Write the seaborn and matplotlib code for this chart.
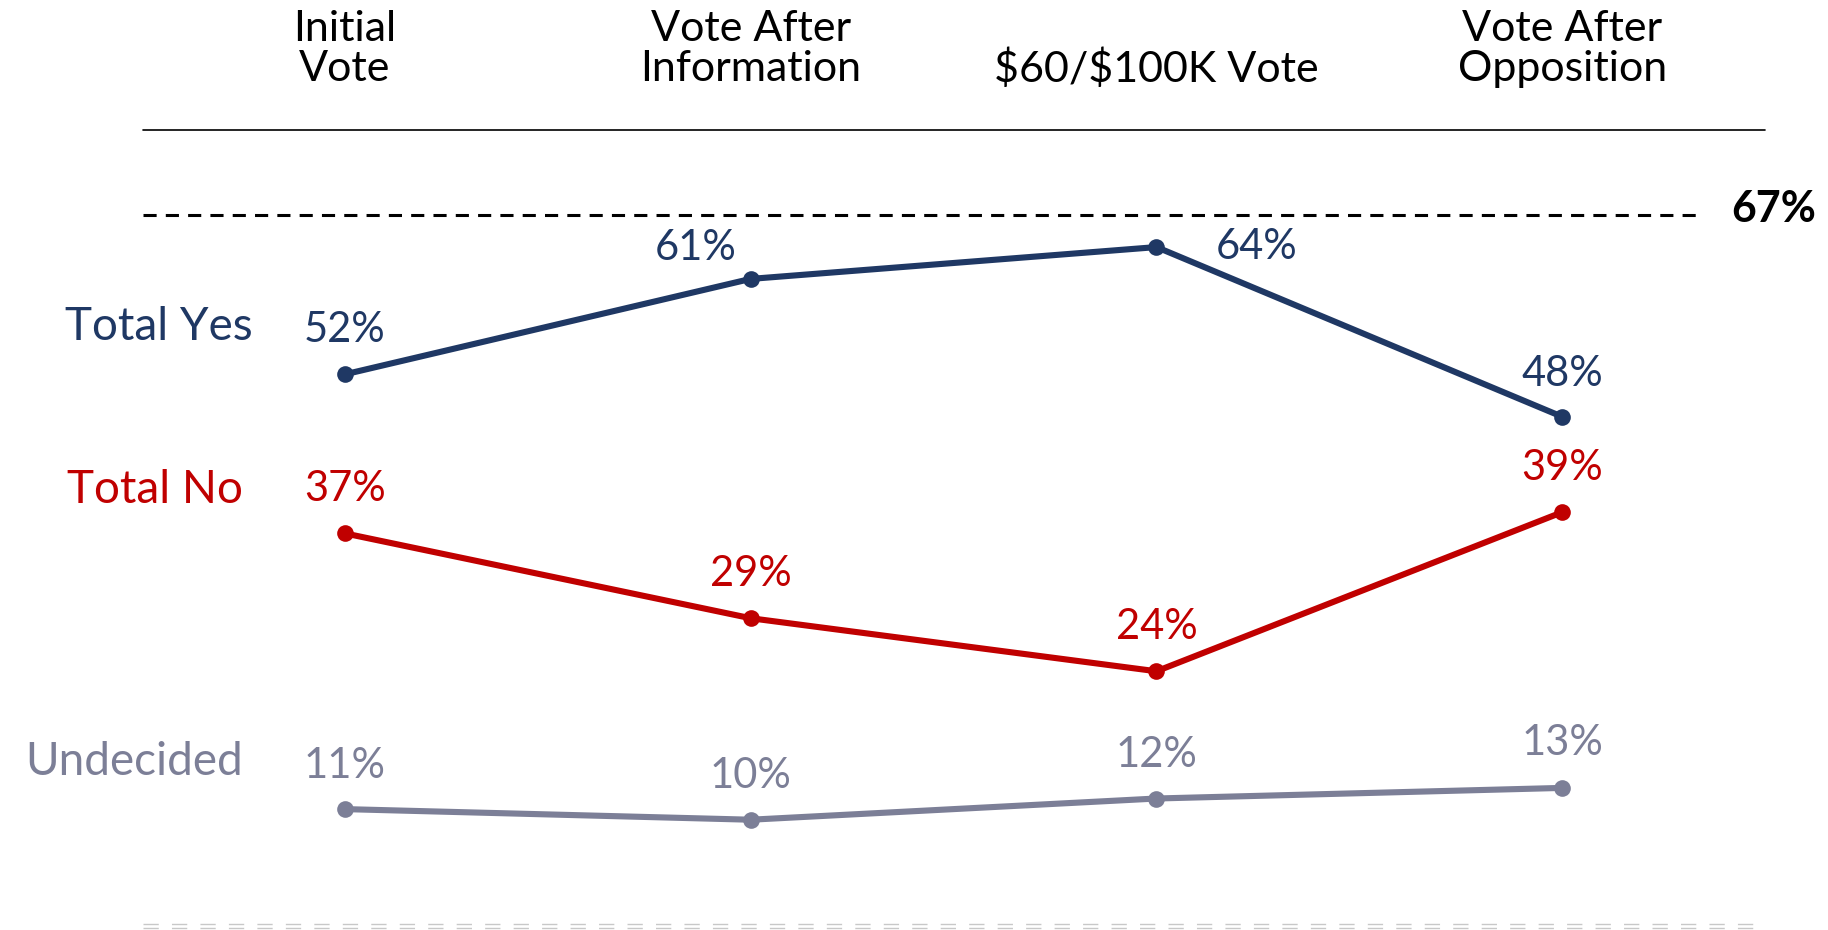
import numpy as np
import pandas as pd
import matplotlib
matplotlib.use("Agg")
import matplotlib.pyplot as plt
import seaborn as sns

# ---- data ----
stages = ["Initial\nVote", "Vote After\nInformation", "\\$60/\\$100K Vote", "Vote After\nOpposition"]
series_names = ["Total Yes", "Total No", "Undecided"]
total_yes = [52, 61, 64, 48]
total_no = [37, 29, 24, 39]
undecided = [11, 10, 12, 13]
threshold = 67

colors = {"Total Yes": "#1F3864", "Total No": "#C00000", "Undecided": "#7C7F97"}

rows = []
for name, vals in zip(series_names, [total_yes, total_no, undecided]):
    for i, v in enumerate(vals):
        rows.append({"series": name, "pos": i, "value": v})
df = pd.DataFrame(rows)

sns.set_theme(style="white")
plt.rcParams["font.family"] = ["Lato", "DejaVu Sans"]

fig = plt.figure(figsize=(18.28, 9.30), dpi=100)
ax = fig.add_axes([0, 0, 1, 1])

sns.lineplot(data=df, x="pos", y="value", hue="series", palette=colors,
             hue_order=series_names, marker="o", markersize=12,
             markeredgewidth=0, linewidth=4.4, legend=False, ax=ax)

ax.set_xlim(-0.850, 3.655)
ax.set_ylim(-0.4, 87.3)
ax.axis("off")

trans = matplotlib.transforms.blended_transform_factory(ax.transData, ax.transAxes)
trans2 = matplotlib.transforms.blended_transform_factory(ax.transAxes, ax.transData)
# header labels
for i, s in enumerate(stages):
    if "\n" in s:
        ax.text(i, 1 - 49 / 930, s, transform=trans, ha="center", va="center",
                fontsize=31, linespacing=1.08, color="black")
    else:
        ax.text(i, 1 - 69 / 930, s, transform=trans, ha="center", va="center",
                fontsize=31, color="black")

# top rule
fig.add_artist(plt.Line2D([143 / 1828, 1765 / 1828], [1 - 130 / 930] * 2,
                          color="black", lw=1.2))

# threshold dashed line
ax.plot([143 / 1828, 1702 / 1828], [threshold, threshold], transform=trans2,
        color="black", lw=2.2, dashes=(4.3, 3.0))
ax.text(1731 / 1828, threshold + 0.6, f"{threshold}%", transform=trans2,
        ha="left", va="center", fontsize=31, fontweight="bold", color="black")

# bottom faint double dashed line
for yp in (924, 928):
    fig.add_artist(plt.Line2D([143 / 1828, 1760 / 1828], [1 - yp / 930] * 2,
                              color="#C8C8C8", lw=1.0, dashes=(11, 9.5)))

# value labels
offsets = {
    "Total Yes": [(0, 44), (-55, 31), (100, 0), (0, 43)],
    "Total No": [(0, 44), (0, 44), (0, 44), (0, 44)],
    "Undecided": [(0, 43), (0, 44), (0, 44), (0, 45)],
}
for name, vals in zip(series_names, [total_yes, total_no, undecided]):
    for i, v in enumerate(vals):
        dx, dy = offsets[name][i]
        ax.annotate(f"{v}%", (i, v), xytext=(dx, dy), textcoords="offset pixels",
                    ha="center", va="center", fontsize=30, color=colors[name])

# series labels
series_pos = {"Total Yes": (253, 327), "Total No": (243, 490), "Undecided": (243, 762)}
for name in series_names:
    xp, yp = series_pos[name]
    fig.text(xp / 1828, 1 - yp / 930, name, ha="right", va="center",
             fontsize=33, color=colors[name])

fig.savefig("out.png", dpi=100)
